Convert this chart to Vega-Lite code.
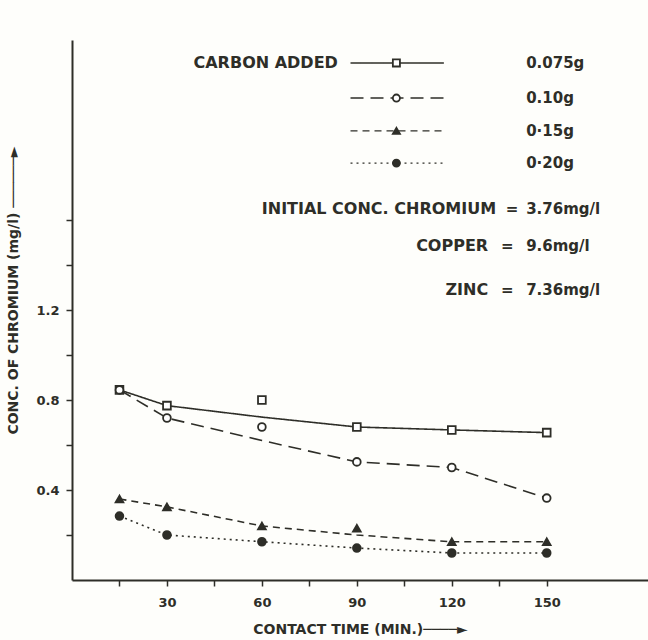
{
  "$schema": "https://vega.github.io/schema/vega-lite/v6.json",
  "width": 576,
  "height": 540,
  "autosize": {"type": "none"},
  "padding": {"left": 72, "top": 40, "right": 0, "bottom": 60},
  "background": "#fefefb",
  "config": {
    "font": "DejaVu Sans",
    "view": {"stroke": null},
    "axis": {
      "grid": false,
      "domainColor": "#2e2e28",
      "domainWidth": 2,
      "tickColor": "#2e2e28",
      "tickWidth": 1.5,
      "tickSize": 6,
      "labelColor": "#2e2e28",
      "labelFontSize": 13,
      "labelFontWeight": "bold",
      "titleColor": "#2e2e28",
      "titleFontSize": 14,
      "titleFontWeight": "bold"
    }
  },
  "datasets": {
    "runs": [
      {"carbon": "0.075g", "t": 15, "c": 0.845, "fit": 0.845},
      {"carbon": "0.075g", "t": 30, "c": 0.775, "fit": 0.775},
      {"carbon": "0.075g", "t": 60, "c": 0.80, "fit": 0.724},
      {"carbon": "0.075g", "t": 90, "c": 0.68, "fit": 0.68},
      {"carbon": "0.075g", "t": 120, "c": 0.667, "fit": 0.667},
      {"carbon": "0.075g", "t": 150, "c": 0.655, "fit": 0.655},
      {"carbon": "0.10g", "t": 15, "c": 0.845, "fit": 0.845},
      {"carbon": "0.10g", "t": 30, "c": 0.72, "fit": 0.72},
      {"carbon": "0.10g", "t": 60, "c": 0.68, "fit": 0.62},
      {"carbon": "0.10g", "t": 90, "c": 0.525, "fit": 0.525},
      {"carbon": "0.10g", "t": 120, "c": 0.50, "fit": 0.50},
      {"carbon": "0.10g", "t": 150, "c": 0.364, "fit": 0.364},
      {"carbon": "0·15g", "t": 15, "c": 0.36, "fit": 0.36},
      {"carbon": "0·15g", "t": 30, "c": 0.325, "fit": 0.325},
      {"carbon": "0·15g", "t": 60, "c": 0.24, "fit": 0.24},
      {"carbon": "0·15g", "t": 90, "c": 0.23, "fit": 0.20},
      {"carbon": "0·15g", "t": 120, "c": 0.17, "fit": 0.17},
      {"carbon": "0·15g", "t": 150, "c": 0.17, "fit": 0.17},
      {"carbon": "0·20g", "t": 15, "c": 0.284, "fit": 0.284},
      {"carbon": "0·20g", "t": 30, "c": 0.20, "fit": 0.20},
      {"carbon": "0·20g", "t": 60, "c": 0.17, "fit": 0.17},
      {"carbon": "0·20g", "t": 90, "c": 0.142, "fit": 0.142},
      {"carbon": "0·20g", "t": 120, "c": 0.12, "fit": 0.12},
      {"carbon": "0·20g", "t": 150, "c": 0.12, "fit": 0.12}
    ],
    "key": [
      {"carbon": "0.075g", "x1": 88, "x2": 117.5, "xm": 102.5, "y": 2.298},
      {"carbon": "0.10g", "x1": 88, "x2": 117.5, "xm": 102.5, "y": 2.142},
      {"carbon": "0·15g", "x1": 88, "x2": 117.5, "xm": 102.5, "y": 1.996},
      {"carbon": "0·20g", "x1": 88, "x2": 117.5, "xm": 102.5, "y": 1.853}
    ],
    "notes": [
      {"x": 84, "y": 2.298, "text": "CARBON ADDED", "align": "right", "size": 16},
      {"x": 143.5, "y": 2.298, "text": "0.075g", "align": "left", "size": 15},
      {"x": 143.5, "y": 2.142, "text": "0.10g", "align": "left", "size": 15},
      {"x": 143.5, "y": 1.996, "text": "0·15g", "align": "left", "size": 15},
      {"x": 143.5, "y": 1.853, "text": "0·20g", "align": "left", "size": 15},
      {"x": 134, "y": 1.649, "text": "INITIAL  CONC. CHROMIUM", "align": "right", "size": 16},
      {"x": 139, "y": 1.649, "text": "=", "align": "center", "size": 15},
      {"x": 143.5, "y": 1.649, "text": "3.76mg/l", "align": "left", "size": 15},
      {"x": 131.5, "y": 1.484, "text": "COPPER", "align": "right", "size": 16},
      {"x": 137.5, "y": 1.484, "text": "=", "align": "center", "size": 15},
      {"x": 143.5, "y": 1.484, "text": "9.6mg/l", "align": "left", "size": 15},
      {"x": 131.5, "y": 1.289, "text": "ZINC", "align": "right", "size": 16},
      {"x": 137.5, "y": 1.289, "text": "=", "align": "center", "size": 15},
      {"x": 143.5, "y": 1.289, "text": "7.36mg/l", "align": "left", "size": 15}
    ]
  },
  "layer": [
    {
      "data": {"name": "runs"},
      "mark": {"type": "line", "color": "#2e2e28", "strokeWidth": 1.6},
      "encoding": {
        "x": {
          "field": "t", "type": "quantitative",
          "scale": {"domain": [0, 182], "nice": false},
          "axis": {
            "values": [15, 30, 45, 60, 75, 90, 105, 120, 135, 150],
            "labelExpr": "datum.value % 30 === 0 ? datum.value : ''",
            "title": "CONTACT TIME (MIN.)────►",
            "titlePadding": 13,
            "labelPadding": 10
          }
        },
        "y": {
          "field": "fit", "type": "quantitative",
          "scale": {"domain": [0, 2.4], "nice": false},
          "axis": {
            "values": [0.2, 0.4, 0.6, 0.8, 1.0, 1.2, 1.4, 1.6],
            "labelExpr": "(abs(datum.value - 0.4) < 0.01 || abs(datum.value - 0.8) < 0.01 || abs(datum.value - 1.2) < 0.01) ? format(datum.value, '.1f') : ''",
            "title": "CONC. OF CHROMIUM (mg/l) ──────►",
            "titleX": -52,
            "titleY": 250,
            "labelPadding": 7
          }
        },
        "detail": {"field": "carbon"},
        "strokeDash": {
          "field": "carbon", "type": "nominal",
          "scale": {
            "domain": ["0.075g", "0.10g", "0·15g", "0·20g"],
            "range": [[1, 0], [13, 7], [7, 5], [2, 4]]
          },
          "legend": null
        }
      }
    },
    {
      "data": {"name": "runs"},
      "mark": {"type": "point", "size": 60, "strokeWidth": 1.8, "opacity": 1, "stroke": "#2e2e28"},
      "encoding": {
        "x": {"field": "t", "type": "quantitative"},
        "y": {"field": "c", "type": "quantitative"},
        "shape": {
          "field": "carbon", "type": "nominal",
          "scale": {
            "domain": ["0.075g", "0.10g", "0·15g", "0·20g"],
            "range": ["square", "circle", "triangle-up", "circle"]
          },
          "legend": null
        },
        "fill": {
          "field": "carbon", "type": "nominal",
          "scale": {
            "domain": ["0.075g", "0.10g", "0·15g", "0·20g"],
            "range": ["#ffffff", "#ffffff", "#2e2e28", "#2e2e28"]
          },
          "legend": null
        }
      }
    },
    {
      "data": {"name": "key"},
      "mark": {"type": "rule", "color": "#2e2e28", "strokeWidth": 1.4},
      "encoding": {
        "x": {"field": "x1", "type": "quantitative"},
        "x2": {"field": "x2"},
        "y": {"field": "y", "type": "quantitative"},
        "strokeDash": {
          "field": "carbon", "type": "nominal",
          "scale": {
            "domain": ["0.075g", "0.10g", "0·15g", "0·20g"],
            "range": [[1, 0], [13, 7], [7, 5], [2, 4]]
          },
          "legend": null
        }
      }
    },
    {
      "data": {"name": "key"},
      "mark": {"type": "point", "size": 50, "strokeWidth": 1.8, "opacity": 1, "stroke": "#2e2e28"},
      "encoding": {
        "x": {"field": "xm", "type": "quantitative"},
        "y": {"field": "y", "type": "quantitative"},
        "shape": {
          "field": "carbon", "type": "nominal",
          "scale": {
            "domain": ["0.075g", "0.10g", "0·15g", "0·20g"],
            "range": ["square", "circle", "triangle-up", "circle"]
          },
          "legend": null
        },
        "fill": {
          "field": "carbon", "type": "nominal",
          "scale": {
            "domain": ["0.075g", "0.10g", "0·15g", "0·20g"],
            "range": ["#ffffff", "#ffffff", "#2e2e28", "#2e2e28"]
          },
          "legend": null
        }
      }
    },
    {
      "data": {"name": "notes"},
      "transform": [{"filter": "datum.align === 'right'"}],
      "mark": {"type": "text", "color": "#2e2e28", "baseline": "middle", "align": "right", "fontWeight": "bold"},
      "encoding": {
        "x": {"field": "x", "type": "quantitative"},
        "y": {"field": "y", "type": "quantitative"},
        "text": {"field": "text"},
        "size": {"field": "size", "type": "quantitative", "scale": null}
      }
    },
    {
      "data": {"name": "notes"},
      "transform": [{"filter": "datum.align === 'left'"}],
      "mark": {"type": "text", "color": "#2e2e28", "baseline": "middle", "align": "left", "fontWeight": "bold"},
      "encoding": {
        "x": {"field": "x", "type": "quantitative"},
        "y": {"field": "y", "type": "quantitative"},
        "text": {"field": "text"},
        "size": {"field": "size", "type": "quantitative", "scale": null}
      }
    },
    {
      "data": {"name": "notes"},
      "transform": [{"filter": "datum.align === 'center'"}],
      "mark": {"type": "text", "color": "#2e2e28", "baseline": "middle", "align": "center", "fontWeight": "bold"},
      "encoding": {
        "x": {"field": "x", "type": "quantitative"},
        "y": {"field": "y", "type": "quantitative"},
        "text": {"field": "text"},
        "size": {"field": "size", "type": "quantitative", "scale": null}
      }
    }
  ]
}
